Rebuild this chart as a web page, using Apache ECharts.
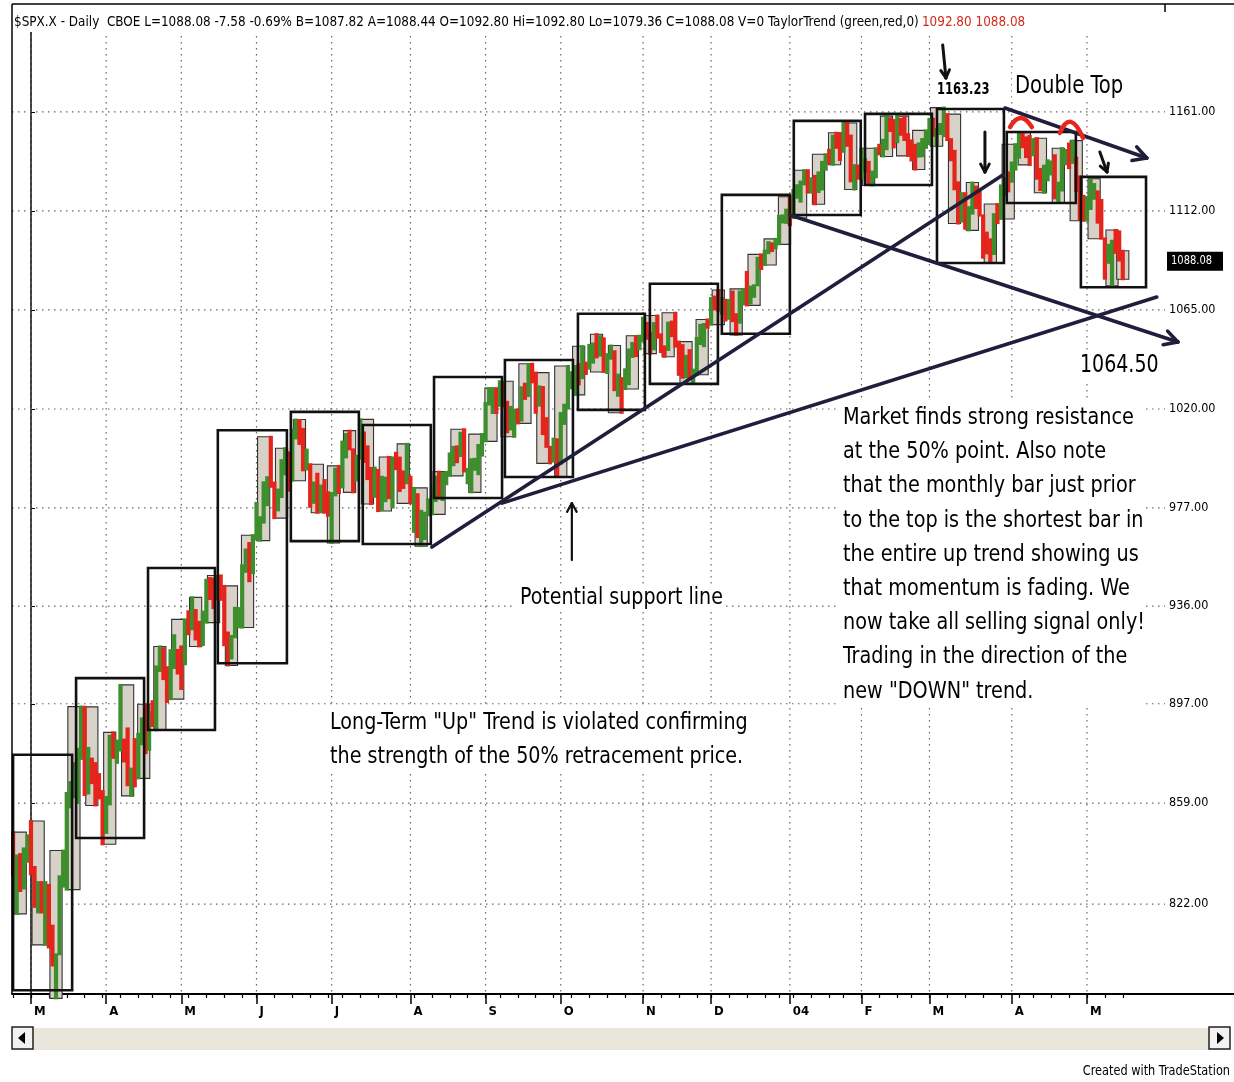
<!DOCTYPE html>
<html><head><meta charset="utf-8">
<script src="https://cdn.jsdelivr.net/npm/echarts@6/dist/echarts.min.js"></script>
<style>html,body{margin:0;padding:0;background:#fff}#chart{width:1234px;height:1082px}</style>
</head><body><div id="chart"></div>
<script>
const FONT = "'Liberation Sans Narrow','Arial Narrow','DejaVu Sans Condensed',sans-serif";
const GREEN = '#3d8e2c', RED = '#e5241b';

// ---- daily bars per month: [day, open, high, low, close] ----
const feb2003 = [[24,848.2,848.2,832.2,832.6],[25,832.6,839.6,818.5,838.6],[26,838.6,840.1,826.7,827.6],[27,827.6,842.2,827.6,837.3],[28,837.3,847.0,837.3,841.2]];
const mar2003 = [[3,841.2,852.3,832.7,834.8],[4,834.8,835.4,821.0,822.0],[5,822.0,829.9,819.0,829.9],[6,829.9,829.9,819.0,822.1],[7,822.1,829.9,807.5,828.9],
[10,828.9,828.9,806.6,807.5],[11,807.5,814.3,800.3,800.7],[12,800.7,804.2,788.9,804.2],[13,804.2,832.0,804.2,831.9],[14,831.9,841.4,828.3,833.3],
[17,833.3,862.8,827.2,862.8],[18,862.8,866.9,857.4,866.5],[19,866.5,874.0,861.2,874.0],[20,874.0,879.6,859.0,875.7],[21,875.7,895.9,875.7,895.8],
[24,895.8,895.8,862.0,864.2],[25,864.2,879.9,862.6,874.7],[26,874.7,875.8,866.5,870.0],[27,870.0,874.1,858.1,868.5],[28,868.5,869.9,860.8,863.5],[31,863.5,863.5,843.7,848.2]];
const apr2003 = [[1,848.2,861.3,847.9,858.5],[2,858.5,884.6,858.5,880.9],[3,880.9,885.9,876.1,876.5],[4,876.5,882.7,874.2,878.9],
[7,878.9,904.4,878.9,879.9],[8,879.9,883.1,874.7,878.3],[9,878.3,887.4,865.7,866.0],[10,866.0,872.0,861.7,871.6],[11,871.6,883.3,865.3,868.3],
[14,868.3,885.3,868.3,885.2],[15,885.2,891.3,881.3,890.8],[16,890.8,896.8,877.9,879.9],[17,879.9,893.8,879.2,893.6],
[21,893.6,898.0,888.3,892.0],[22,892.0,911.7,886.7,911.4],[23,911.4,919.7,909.9,919.0],[24,919.0,919.0,906.7,911.4],[25,911.4,911.4,897.7,898.8],
[28,898.8,918.2,898.8,914.8],[29,914.8,924.2,911.1,917.8],[30,917.8,918.3,908.9,916.9]];
const may2003 = [[1,916.9,919.7,902.8,916.3],[2,916.3,930.6,912.6,930.1],
[5,930.1,933.9,924.6,926.6],[6,926.6,939.6,926.6,934.4],[7,934.4,934.4,922.5,929.6],[8,929.6,929.6,919.7,920.3],[9,920.3,933.8,920.3,933.4],
[12,933.4,946.8,929.3,945.1],[13,945.1,947.5,938.9,942.3],[14,942.3,947.3,935.2,939.3],[15,939.3,948.2,938.8,946.7],[16,946.7,948.6,938.6,944.3],
[19,944.3,944.3,920.2,920.8],[20,920.8,925.3,912.1,919.7],[21,919.7,923.9,914.9,923.4],[22,923.4,935.3,923.4,931.9],[23,931.9,935.2,927.4,933.2],
[27,933.2,952.8,927.3,951.5],[28,951.5,959.4,950.1,953.2],[29,953.2,962.1,946.2,949.6],[30,949.6,965.4,949.6,963.6]];
const jun2003 = [[2,963.6,979.1,963.6,967.0],[3,967.0,973.0,963.1,971.6],[4,971.6,987.9,970.7,986.2],[5,986.2,990.1,978.1,990.1],[6,990.1,1007.7,986.0,987.8],
[9,987.8,987.8,972.6,975.9],[10,975.9,984.8,975.9,984.8],[11,984.8,997.5,981.6,997.5],[12,997.5,1002.7,991.3,998.5],[13,998.5,1000.9,984.3,988.6],
[16,988.6,1010.9,988.6,1010.7],[17,1010.7,1015.3,1007.0,1011.7],[18,1011.7,1015.1,1004.6,1010.1],[19,1010.1,1011.2,993.1,994.7],[20,994.7,1002.1,993.4,995.7],
[23,995.7,995.7,977.4,981.6],[24,981.6,987.8,979.1,983.5],[25,983.5,991.6,974.9,975.3],[26,975.3,986.5,975.3,985.8],[27,985.8,988.9,974.9,976.2],[30,976.2,983.6,973.6,974.5]];
const jul2003 = [[1,974.5,983.3,962.1,982.3],[2,982.3,993.8,982.3,993.8],[3,993.8,995.0,983.3,985.7],
[7,985.7,1005.6,985.7,1004.4],[8,1004.4,1008.9,998.7,1007.8],[9,1007.8,1010.4,1002.2,1002.2],[10,1002.2,1002.2,983.6,988.7],[11,988.7,999.4,988.7,998.1],
[14,998.1,1015.4,998.1,1003.9],[15,1003.9,1009.6,996.7,1000.4],[16,1000.4,1003.5,989.3,994.1],[17,994.1,994.1,978.6,981.7],[18,981.7,994.3,981.7,993.3],
[21,993.3,993.3,975.6,978.8],[22,978.8,990.3,976.1,988.1],[23,988.1,989.9,979.8,988.6],[24,988.6,998.9,981.1,981.6],[25,981.6,998.7,977.1,998.7],
[28,998.7,1000.7,993.6,996.5],[29,996.5,998.6,984.2,989.3],[30,989.3,992.6,985.5,987.5],[31,987.5,1004.6,987.5,990.3]];
const aug2003 = [[1,990.3,990.3,978.9,980.2],
[4,980.2,985.5,966.8,982.8],[5,982.8,982.8,964.6,965.5],[6,965.5,975.7,960.8,967.1],[7,967.1,974.9,963.8,974.1],[8,974.1,980.6,973.8,977.6],
[11,977.6,985.5,974.2,980.6],[12,980.6,990.4,979.9,990.4],[13,990.4,992.5,980.9,984.0],[14,984.0,991.9,980.3,990.5],[15,990.5,992.4,987.1,990.7],
[18,990.7,1000.4,990.7,999.7],[19,999.7,1003.3,995.3,1002.4],[20,1002.4,1003.5,996.6,1000.3],[21,1000.3,1009.5,999.3,1003.3],[22,1003.3,1011.0,992.6,993.1],
[25,993.1,993.7,987.5,993.7],[26,993.7,997.9,983.6,996.7],[27,996.7,998.1,993.3,996.8],[28,996.8,1004.1,991.4,1002.8],[29,1002.8,1008.9,999.5,1008.0]];
const sep2003 = [[2,1008.0,1022.6,1005.7,1022.0],[3,1022.0,1029.3,1022.0,1026.3],[4,1026.3,1029.2,1018.2,1028.0],[5,1028.0,1029.2,1018.2,1021.4],
[8,1021.4,1032.4,1021.4,1031.6],[9,1031.6,1031.6,1021.1,1023.2],[10,1023.2,1023.2,1009.7,1010.9],[11,1010.9,1020.9,1010.9,1016.4],[12,1016.4,1019.7,1007.7,1018.6],
[15,1018.6,1019.8,1013.6,1014.8],[16,1014.8,1029.7,1014.8,1029.3],[17,1029.3,1031.3,1024.5,1026.0],[18,1026.0,1040.2,1025.8,1039.6],[19,1039.6,1040.3,1031.9,1036.3],
[22,1036.3,1036.3,1018.3,1022.8],[23,1022.8,1030.1,1021.5,1029.0],[24,1029.0,1029.8,1008.9,1009.4],[25,1009.4,1015.9,1003.3,1003.3],[26,1003.3,1003.3,996.1,996.9],
[29,996.9,1006.9,996.9,1006.6],[30,1006.6,1006.6,990.4,996.0]];
const oct2003 = [[1,996.0,1018.2,996.0,1018.2],[2,1018.2,1021.9,1013.4,1020.2],[3,1020.2,1039.3,1020.2,1029.9],
[6,1029.9,1036.5,1029.2,1034.4],[7,1034.4,1039.3,1026.3,1039.3],[8,1039.3,1040.1,1031.0,1033.8],[9,1033.8,1048.3,1033.8,1038.7],[10,1038.7,1040.8,1035.7,1038.1],
[13,1038.1,1048.9,1038.1,1045.4],[14,1045.4,1049.5,1040.8,1049.5],[15,1049.5,1053.8,1043.2,1046.8],[16,1046.8,1052.9,1044.0,1050.1],[17,1050.1,1051.9,1036.6,1039.3],
[20,1039.3,1044.7,1036.1,1044.7],[21,1044.7,1048.6,1042.6,1046.0],[22,1046.0,1046.0,1028.4,1030.4],[23,1030.4,1035.4,1025.9,1033.8],[24,1033.8,1033.8,1018.3,1028.9],
[27,1028.9,1037.8,1028.9,1031.1],[28,1031.1,1046.8,1031.1,1046.8],[29,1046.8,1049.8,1043.4,1048.1],[30,1048.1,1052.8,1043.8,1046.9],[31,1046.9,1053.1,1046.9,1050.7]];
const nov2003 = [[3,1050.7,1061.4,1050.7,1059.0],[4,1059.0,1059.0,1051.7,1053.3],[5,1053.3,1054.5,1044.9,1051.8],[6,1051.8,1058.9,1046.9,1058.1],[7,1058.1,1062.4,1052.2,1053.2],
[10,1053.2,1053.7,1045.6,1047.1],[11,1047.1,1048.2,1043.5,1046.6],[12,1046.6,1059.1,1046.6,1058.5],[13,1058.5,1059.6,1052.9,1058.4],[14,1058.4,1063.7,1048.1,1050.4],
[17,1050.4,1050.4,1035.3,1043.6],[18,1043.6,1048.8,1034.0,1034.2],[19,1034.2,1043.9,1034.2,1042.4],[20,1042.4,1046.5,1033.4,1033.7],[21,1033.7,1037.6,1031.2,1035.3],
[24,1035.3,1052.1,1035.3,1052.1],[25,1052.1,1058.1,1049.3,1053.9],[26,1053.9,1058.5,1048.3,1058.5],[28,1058.5,1060.6,1056.8,1058.2]];
const dec2003 = [[1,1058.2,1070.5,1058.2,1070.1],[2,1070.1,1071.2,1065.2,1066.6],[3,1066.6,1074.3,1064.6,1064.7],[4,1064.7,1070.4,1063.2,1069.7],[5,1069.7,1069.7,1060.1,1061.5],
[8,1061.5,1069.6,1060.9,1069.3],[9,1069.3,1073.6,1059.8,1060.2],[10,1060.2,1063.0,1053.4,1059.1],[11,1059.1,1073.6,1059.1,1071.2],[12,1071.2,1074.8,1067.6,1074.1],
[15,1074.1,1082.8,1067.1,1068.0],[16,1068.0,1075.9,1068.0,1075.1],[17,1075.1,1076.5,1071.1,1076.5],[18,1076.5,1089.5,1076.5,1089.2],[19,1089.2,1091.1,1084.2,1088.7],
[22,1088.7,1092.9,1086.1,1092.9],[23,1092.9,1096.9,1091.7,1096.0],[24,1096.0,1096.4,1092.7,1094.0],[26,1094.0,1098.5,1094.0,1095.9],
[29,1095.9,1109.5,1095.9,1109.5],[30,1109.5,1109.8,1106.4,1109.6],[31,1109.6,1112.6,1106.2,1111.9]];
const jan2004 = [[2,1111.9,1118.9,1105.1,1108.5],
[5,1108.5,1122.2,1108.5,1122.2],[6,1122.2,1124.5,1118.4,1123.7],[7,1123.7,1126.3,1116.5,1126.3],[8,1126.3,1131.9,1124.9,1131.9],[9,1131.9,1131.9,1120.9,1121.9],
[12,1121.9,1127.9,1120.9,1127.2],[13,1127.2,1129.1,1115.2,1121.2],[14,1121.2,1130.8,1121.2,1130.5],[15,1130.5,1136.0,1122.4,1132.1],[16,1132.1,1139.8,1132.1,1139.8],
[20,1139.8,1142.0,1135.4,1138.8],[21,1138.8,1149.1,1134.6,1147.6],[22,1147.6,1150.5,1143.0,1143.9],[23,1143.9,1150.3,1136.9,1141.6],
[26,1141.6,1155.4,1141.0,1155.4],[27,1155.4,1155.4,1144.0,1144.1],[28,1144.1,1149.1,1126.4,1128.5],[29,1128.5,1134.4,1122.4,1134.1],[30,1134.1,1134.2,1127.7,1131.1]];
const feb2004 = [[2,1131.1,1142.5,1127.9,1135.3],[3,1135.3,1137.4,1131.3,1136.0],[4,1136.0,1136.0,1124.7,1126.5],[5,1126.5,1131.2,1124.4,1128.6],[6,1128.6,1142.8,1128.4,1142.8],
[9,1142.8,1144.5,1139.8,1139.8],[10,1139.8,1147.0,1138.7,1145.5],[11,1145.5,1158.9,1142.3,1157.8],[12,1157.8,1157.8,1151.4,1152.1],[13,1152.1,1156.9,1143.2,1145.8],
[17,1145.8,1158.9,1145.8,1157.0],[18,1157.0,1157.4,1149.5,1151.8],[19,1151.8,1158.6,1146.9,1147.1],[20,1147.1,1149.8,1139.0,1144.1],
[23,1144.1,1146.7,1136.7,1141.0],[24,1141.0,1144.5,1132.2,1139.1],[25,1139.1,1145.2,1138.6,1143.7],[26,1143.7,1147.4,1138.8,1144.9],[27,1144.9,1151.7,1143.0,1144.9]];
const mar2004 = [[1,1144.9,1157.5,1144.9,1156.0],[2,1156.0,1157.6,1149.0,1149.1],[3,1149.1,1152.4,1143.8,1151.0],[4,1151.0,1154.9,1149.9,1154.9],[5,1154.9,1163.2,1148.8,1156.9],
[8,1156.9,1159.9,1146.9,1147.2],[9,1147.2,1147.3,1136.8,1140.6],[10,1140.6,1141.5,1122.5,1123.9],[11,1123.9,1125.9,1105.9,1106.8],[12,1106.8,1120.6,1106.8,1120.6],
[15,1120.6,1120.6,1103.4,1104.5],[16,1104.5,1113.8,1102.6,1110.7],[17,1110.7,1125.8,1110.7,1123.8],[18,1123.8,1123.8,1113.4,1122.3],[19,1122.3,1122.7,1109.7,1109.8],
[22,1109.8,1109.8,1089.5,1095.4],[23,1095.4,1101.5,1091.6,1093.9],[24,1093.9,1098.3,1087.2,1091.3],[25,1091.3,1110.4,1091.3,1109.2],[26,1109.2,1115.3,1106.1,1108.1],
[29,1108.1,1124.4,1108.1,1122.5],[30,1122.5,1127.6,1119.7,1127.0],[31,1127.0,1130.8,1121.5,1126.2]];
const apr2004 = [[1,1126.2,1135.7,1126.2,1132.2],[2,1132.2,1144.8,1132.2,1141.8],
[5,1141.8,1150.6,1138.1,1150.6],[6,1150.6,1150.6,1143.3,1148.2],[7,1148.2,1148.2,1138.4,1140.5],[8,1140.5,1148.9,1134.5,1139.3],
[12,1139.3,1147.3,1139.3,1145.2],[13,1145.2,1147.8,1127.7,1129.4],[14,1129.4,1132.5,1122.1,1128.2],[15,1128.2,1134.1,1120.8,1128.8],[16,1128.8,1136.8,1126.9,1134.6],
[19,1134.6,1136.2,1129.8,1135.8],[20,1135.8,1139.3,1118.1,1118.2],[21,1118.2,1125.7,1116.0,1124.1],[22,1124.1,1142.8,1121.9,1139.9],[23,1139.9,1141.9,1134.8,1140.6],
[26,1140.6,1145.1,1132.9,1135.5],[27,1135.5,1146.6,1135.5,1138.1],[28,1138.1,1138.1,1121.7,1122.4],[29,1122.4,1128.8,1108.0,1113.9],[30,1113.9,1119.3,1107.2,1107.3]];
const may2004 = [[3,1107.3,1118.7,1107.3,1117.5],[4,1117.5,1127.7,1112.9,1119.6],[5,1119.6,1125.1,1117.9,1121.5],[6,1121.5,1121.5,1106.3,1114.0],[7,1114.0,1117.3,1098.6,1098.7],
[10,1098.7,1098.7,1079.6,1087.1],[11,1087.1,1095.7,1087.1,1095.5],[12,1095.5,1097.6,1076.3,1097.3],[13,1097.3,1102.8,1091.8,1096.4],[14,1096.4,1102.1,1088.2,1095.7],
[17,1092.8,1092.8,1079.36,1088.08]];

const monthYM = [[2003,2],[2003,3],[2003,4],[2003,5],[2003,6],[2003,7],[2003,8],[2003,9],[2003,10],[2003,11],[2003,12],[2004,1],[2004,2],[2004,3],[2004,4],[2004,5]];
const monthRows = [feb2003,mar2003,apr2003,may2003,jun2003,jul2003,aug2003,sep2003,oct2003,nov2003,dec2003,jan2004,feb2004,mar2004,apr2004,may2004];
const monthLabels = ['','M','A','M','J','J','A','S','O','N','D','04','F','M','A','M'];

// price axis tick labels
const priceTicks = [822, 859, 897, 936, 977, 1020, 1065, 1112, 1161];

// hand-drawn "monthly" boxes (trading-day index, price)
const boxStart = [-5.0, 12.6, 32.7, 52.2, 72.6, 92.7, 112.6, 132.4, 152.8, 172.9, 193.0, 213.1, 233.0, 253.1, 272.6, 293.3];
const boxEnd   = [11.5, 31.6, 51.4, 71.5, 91.6, 111.7, 131.6, 151.4, 171.5, 191.9, 212.0, 231.8, 251.7, 271.8, 291.9, 311.5];
const boxHigh  = [877.3, 907.1, 951.7, 1010.6, 1018.7, 1012.9, 1034.3, 1042.0, 1063.2, 1077.2, 1119.8, 1156.5, 1160.0, 1162.5, 1150.9, 1128.6];
const boxLow   = [791.7, 846.0, 886.8, 913.0, 962.9, 961.7, 981.2, 990.2, 1019.6, 1031.2, 1054.0, 1110.0, 1124.6, 1087.0, 1115.8, 1075.6];

// trend lines (index, price)
const trendFrom = [[131.6,979.0],[112.0,960.4],[212.0,1110.0],[272.1,1163.0]];
const trendTo   = [[314.5,1071.0],[271.5,1129.5],[320.4,1050.2],[311.7,1137.9]];
const trendArrow = [0,0,1,1];
// pen arrows
const penFrom = [[254.7,1195.4],[266.5,1150.9],[298.6,1140.9],[151.1,955.0]];
const penTo   = [[255.6,1178.3],[266.5,1131.0],[300.6,1131.0],[151.1,979.0]];
// red "top" marks
const topMarks = [[[273.5,1153.4],[276.5,1158.0],[279.6,1153.4]],[[287.4,1150.4],[290.5,1156.0],[293.9,1147.9]]];

// ---- build ----
const L = Math.log;
const X_MIN = -5.3, X_MAX = 316.8;
const Y_MIN = L(790.4), Y_MAX = L(1212.7);

const daily = []; const monthStart = []; const monthText = [];
let idx = -feb2003.length;
monthRows.forEach((rows, mi) => {
  monthStart.push(idx); monthText.push(monthLabels[mi]);
  rows.forEach(r => {
    const dt = new Date(Date.UTC(monthYM[mi][0], monthYM[mi][1]-1, r[0]));
    daily.push({i: idx, t: dt.getTime(), dow: dt.getUTCDay(), o:r[1], h:r[2], l:r[3], c:r[4]});
    idx++;
  });
});
const weeks = [];
daily.forEach(d => {
  const monday = d.t - ((d.dow + 6) % 7) * 86400000;
  let w = weeks[weeks.length-1];
  if (!w || w.key !== monday) { w = {key: monday, first: d.i, last: d.i, h: d.h, l: d.l}; weeks.push(w); }
  else { w.last = d.i; w.h = Math.max(w.h, d.h); w.l = Math.min(w.l, d.l); }
});
const weekStarts = weeks.map(w => w.first);
const majorTicks = monthStart.slice(1);

const dailyData = daily.map(d => [d.i, L(d.o), L(d.h), L(d.l), L(d.c)]);
const weekData = weeks.map(w => [(w.first + w.last)/2, L(w.h), L(w.l)]);
const boxData = boxStart.map((s,k) => [s, boxEnd[k], L(boxHigh[k]), L(boxLow[k])]);
const trendData = trendFrom.map((f,k) => [f[0], L(f[1]), trendTo[k][0], L(trendTo[k][1]), trendArrow[k]]);
const penData = penFrom.map((f,k) => [f[0], L(f[1]), penTo[k][0], L(penTo[k][1]), k]);
const markData = topMarks.map(m => [m[0][0], L(m[0][1]), m[1][0], L(m[1][1]), m[2][0], L(m[2][1])]);
const tickLogs = priceTicks.map(L);

function arrowGroup(p1, p2, color, width, head) {
  const ch = [{type:'line', shape:{x1:p1[0],y1:p1[1],x2:p2[0],y2:p2[1]}, style:{stroke:color,lineWidth:width,lineCap:'round'}}];
  if (head) {
    const ang = Math.atan2(p2[1]-p1[1], p2[0]-p1[0]);
    [0.5,-0.5].forEach(da => {
      const a = ang + Math.PI + da;
      ch.push({type:'line', shape:{x1:p2[0],y1:p2[1],x2:p2[0]+head*Math.cos(a),y2:p2[1]+head*Math.sin(a)}, style:{stroke:color,lineWidth:width,lineCap:'round'}});
    });
  }
  return {type:'group', children: ch};
}
const dotStyle = {stroke:'#666', lineWidth:1.2, lineDash:[1.5,4.5]};

const chart = echarts.init(document.getElementById('chart'), null, {renderer:'canvas'});
const option = {
  animation: false,
  backgroundColor: '#fff',
  grid: {left: 12, top: 12, width: 1153, height: 982},
  xAxis: [{
    type:'value', min:X_MIN, max:X_MAX, position:'bottom',
    axisLine:{show:true, onZero:false, lineStyle:{color:'#000', width:2}},
    axisTick:{show:true, customValues: majorTicks, length:10, lineStyle:{color:'#000', width:1.5}},
    axisLabel:{show:true, customValues: majorTicks, align:'left', margin:11, padding:[0,0,0,3],
      formatter: v => monthText[monthStart.indexOf(v)] || '', color:'#000', fontFamily:FONT, fontSize:13, fontWeight:'bold'},
    splitLine:{show:false}
  },{
    type:'value', min:X_MIN, max:X_MAX, position:'bottom',
    axisLine:{show:false, onZero:false},
    axisTick:{show:true, customValues: weekStarts, length:4, lineStyle:{color:'#000', width:1.2}},
    axisLabel:{show:false}, splitLine:{show:false}
  }],
  yAxis: {
    type:'value', position:'right', min:Y_MIN, max:Y_MAX,
    axisLine:{show:true, lineStyle:{color:'#000', width:1.5}},
    axisTick:{show:true, customValues: tickLogs, length:4, lineStyle:{color:'#000'}},
    axisLabel:{show:true, customValues: tickLogs, margin:4,
      formatter: v => { let b=0; tickLogs.forEach((t,k)=>{ if (Math.abs(t-v) < Math.abs(tickLogs[b]-v)) b=k; }); return priceTicks[b].toFixed(2); },
      color:'#000', fontFamily:FONT, fontSize:12.5},
    splitLine:{show:false}
  },
  series: [
    { type:'custom', name:'hgrid', z:1, silent:true, data: tickLogs.map(t => [X_MIN, t]),
      renderItem: (params, api) => { const cs = params.coordSys; const y = api.coord([X_MIN, api.value(1)])[1];
        return {type:'line', shape:{x1:cs.x, y1:y, x2:cs.x+cs.width, y2:y}, style:dotStyle}; } },
    { type:'custom', name:'vgrid', z:1, silent:true, data: majorTicks.map(m => [m, Y_MIN]),
      renderItem: (params, api) => { const cs = params.coordSys; const x = api.coord([api.value(0), Y_MIN])[0];
        return {type:'line', shape:{x1:x, y1:cs.y, x2:x, y2:cs.y+cs.height}, style:dotStyle}; } },
    { type:'custom', name:'weekly', z:2, silent:true, data: weekData,
      renderItem: (params, api) => { const c = api.value(0);
        const p1 = api.coord([c-1.7, api.value(1)]), p2 = api.coord([c+1.7, api.value(2)]);
        return {type:'rect', shape:{x:p1[0], y:p1[1], width:p2[0]-p1[0], height:Math.max(2,p2[1]-p1[1])}, style:{fill:'#d8d1c7', stroke:'#333', lineWidth:1.1}}; } },
    { type:'custom', name:'daily', z:3, silent:true, data: dailyData,
      renderItem: (params, api) => { const x = api.value(0);
        const ph = api.coord([x, api.value(2)]), pl = api.coord([x, api.value(3)]);
        const col = api.value(4) >= api.value(1) ? GREEN : RED;
        return {type:'line', shape:{x1:ph[0], y1:ph[1]-1, x2:pl[0], y2:pl[1]+1}, style:{stroke:col, lineWidth:4.2}}; } },
    { type:'custom', name:'boxes', z:4, silent:true, data: boxData,
      renderItem: (params, api) => { const p1 = api.coord([api.value(0), api.value(2)]), p2 = api.coord([api.value(1), api.value(3)]);
        return {type:'rect', shape:{x:p1[0], y:p1[1], width:p2[0]-p1[0], height:p2[1]-p1[1]}, style:{fill:null, stroke:'#111', lineWidth:2.6}}; } },
    { type:'custom', name:'trend', z:5, silent:true, clip:false, data: trendData,
      renderItem: (params, api) => arrowGroup(api.coord([api.value(0), api.value(1)]), api.coord([api.value(2), api.value(3)]), '#1f1f3d', 3.6, api.value(4) ? 15 : 0) },
    { type:'custom', name:'pen', z:6, silent:true, clip:false, data: penData,
      renderItem: (params, api) => { const thin = api.value(4) === 3;
        return arrowGroup(api.coord([api.value(0), api.value(1)]), api.coord([api.value(2), api.value(3)]), '#111', thin ? 2.2 : 3, thin ? 10 : 9); } },
    { type:'custom', name:'tops', z:6, silent:true, clip:false, data: markData,
      renderItem: (params, api) => { const a = api.coord([api.value(0), api.value(1)]), m = api.coord([api.value(2), api.value(3)]), b = api.coord([api.value(4), api.value(5)]);
        const cp = [2*m[0]-(a[0]+b[0])/2, 2*m[1]-(a[1]+b[1])/2];
        return {type:'bezierCurve', shape:{x1:a[0], y1:a[1], x2:b[0], y2:b[1], cpx1:cp[0], cpy1:cp[1]}, style:{stroke:'#e8261c', lineWidth:4.5, fill:null, lineCap:'round'}}; } }
  ]
};
chart.setOption(option);

const last = daily[daily.length-1];
const pLast = chart.convertToPixel({xAxisIndex:0, yAxisIndex:0}, [0, L(last.c)]);
// narrow text helper: positioned element, horizontally condensed
const txt = (x, y, text, size, sx, extra) => ({type:'text', z:100, x, y, scaleX:sx, style:Object.assign({x:0, y:0, text, fill:'#000', font: size + 'px ' + FONT, textVerticalAlign:'middle'}, extra || {})});
const white = (x, y, w, h) => ({type:'rect', z:99, shape:{x, y, width:w, height:h}, style:{fill:'#fff'}});

const noteBlock = ['Market finds strong resistance','at the 50% point. Also note','that the monthly bar just prior','to the top is the shortest bar in','the entire up trend showing us','that momentum is fading. We','now take all selling signal only!','Trading in the direction of the','new "DOWN" trend.'];
const noteLong = ['Long-Term "Up" Trend is violated confirming','the strength of the 50% retracement price.'];

chart.setOption({graphic: [
  {type:'line', z:50, shape:{x1:12, y1:4, x2:1234, y2:4}, style:{stroke:'#000', lineWidth:1.5}},
  {type:'line', z:50, shape:{x1:12, y1:4, x2:12, y2:994}, style:{stroke:'#000', lineWidth:1.5}},
  {type:'line', z:50, shape:{x1:1165, y1:4, x2:1165, y2:12}, style:{stroke:'#000', lineWidth:1.5}},
  {type:'line', z:50, shape:{x1:1165, y1:994, x2:1234, y2:994}, style:{stroke:'#000', lineWidth:2}},
  white(13, 6, 1150, 26),
  {type:'text', z:100, x:14, y:22, scaleX:0.955, style:{x:0, y:0, textVerticalAlign:'middle',
    text:'{a|$SPX.X - Daily  CBOE L=1088.08 -7.58 -0.69% B=1087.82 A=1088.44 O=1092.80 Hi=1092.80 Lo=1079.36 C=1088.08 V=0 TaylorTrend (green,red,0)} {r|1092.80 1088.08}',
    rich:{a:{fill:'#000', fontSize:14, fontFamily:FONT}, r:{fill:'#d42a1a', fontSize:14, fontFamily:FONT}}}},
  white(838, 400, 304, 306),
  {type:'text', z:100, x:843, y:401, scaleX:0.93, style:{x:0, y:0, text: noteBlock.join('\n'), fill:'#000', font:'23px ' + FONT, lineHeight:34.2, textVerticalAlign:'top'}},
  white(326, 706, 428, 68),
  {type:'text', z:100, x:330, y:706, scaleX:0.925, style:{x:0, y:0, text: noteLong.join('\n'), fill:'#000', font:'23px ' + FONT, lineHeight:34, textVerticalAlign:'top'}},
  white(516, 586, 210, 25),
  txt(520, 598, 'Potential support line', 23, 0.92),
  white(1012, 72, 116, 28),
  txt(1015, 86, 'Double Top', 25, 0.87),
  white(935, 80, 58, 20),
  txt(937, 90, '1163.23', 16, 0.8, {font:'bold 16px ' + FONT}),
  white(1077, 353, 84, 27),
  txt(1080, 366, '1064.50', 24, 0.88),
  {type:'rect', z:100, shape:{x:1167, y:pLast[1]-9, width:56, height:19}, style:{fill:'#000'}},
  txt(1171, pLast[1]+0.5, last.c.toFixed(2), 12, 0.92, {fill:'#fff'}),
  {type:'rect', z:50, shape:{x:12, y:1028, width:1218, height:22}, style:{fill:'#e9e7dc'}},
  {type:'rect', z:51, shape:{x:12, y:1027, width:21, height:22}, style:{fill:'#f2f2f2', stroke:'#222', lineWidth:1.5}},
  {type:'polygon', z:52, shape:{points:[[18,1038],[25,1032],[25,1044]]}, style:{fill:'#000'}},
  {type:'rect', z:51, shape:{x:1209, y:1027, width:21, height:22}, style:{fill:'#f2f2f2', stroke:'#222', lineWidth:1.5}},
  {type:'polygon', z:52, shape:{points:[[1224,1038],[1217,1032],[1217,1044]]}, style:{fill:'#000'}},
  {type:'text', z:100, x:1230, y:1071, scaleX:0.9, style:{x:0, y:0, text:'Created with TradeStation', fill:'#000', font:'14px ' + FONT, textAlign:'right', textVerticalAlign:'middle'}}
]});
</script>
</body></html>
